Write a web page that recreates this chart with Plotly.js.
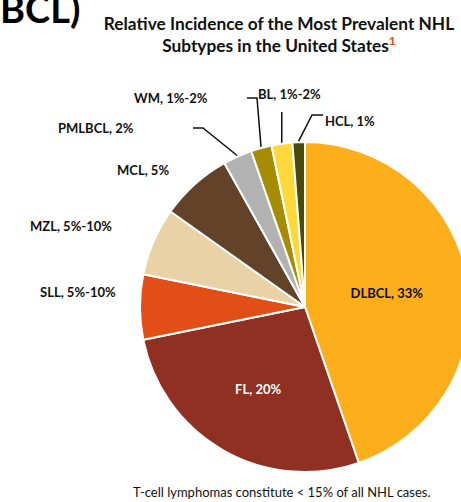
<!DOCTYPE html>
<html>
<head>
<meta charset="utf-8">
<script src="https://cdn.plot.ly/plotly-3.0.1.min.js"></script>
<style>
  html, body { margin: 0; padding: 0; overflow: hidden; background: #fff; }
  #chart { width: 475px; height: 502px; }
</style>
</head>
<body>
<div id="chart"></div>
<script>
// subtypes, clockwise from 12 o'clock
const subtypes = ["DLBCL", "FL", "SLL", "MZL", "MCL", "PMLBCL", "WM", "BL", "HCL"];
const shares = [33, 20, 4.7, 4.9, 5.2, 2.1, 1.5, 1.5, 0.9];
const shareLabels = ["33%", "20%", "5%-10%", "5%-10%", "5%", "2%", "1%-2%", "1%-2%", "1%"];
const sliceColors = ["#FCAF1B", "#8F3022", "#E14F16", "#E8D2A6", "#62432A",
                     "#B2B2B2", "#A68C00", "#FFD93C", "#4B4A0A"];

const W = 475, H = 502;
const px = (x) => x / W;
const py = (y) => 1 - y / H;

// pie placement (pixels)
const cx = 305, cy = 307, R = 165;

// outside label spots, pixels
const outside = {
  SLL:    { x: 78,  y: 292, anchor: "center" },
  MZL:    { x: 71,  y: 226, anchor: "center" },
  MCL:    { x: 143, y: 170, anchor: "center" },
  PMLBCL: { x: 96,  y: 128, anchor: "center", elbow: [193, 203] },
  WM:     { x: 171, y: 98,  anchor: "center", elbow: [247, 257] },
  BL:     { x: 289, y: 94,  anchor: "center", drop: 112 },
  HCL:    { x: 323, y: 121, anchor: "left", elbow: [323, 312], ly: 115 },
};

// mid-angle edge point of every slice, from the data
const total = shares.reduce((a, b) => a + b, 0);
let acc = 0;
const edges = shares.map((v) => {
  const mid = (acc + v / 2) / total * 2 * Math.PI;
  acc += v;
  return { x: cx + (R + 1) * Math.sin(mid), y: cy - (R + 1) * Math.cos(mid) };
});

const labelFont = { family: "Lato, 'Open Sans', sans-serif", size: 13, color: "#111", weight: "bold" };

const annotations = [];
const shapes = [];
subtypes.forEach((name, i) => {
  const o = outside[name];
  if (!o) return;
  annotations.push({
    xref: "paper", yref: "paper", x: px(o.x), y: py(o.y),
    xanchor: o.anchor, yanchor: "middle", showarrow: false,
    text: name + ", " + shareLabels[i], font: labelFont,
  });
  const e = edges[i];
  let path = null;
  if (o.elbow) {
    const ly = o.ly || o.y;
    path = `M ${px(o.elbow[0])} ${py(ly)} L ${px(o.elbow[1])} ${py(ly)} L ${px(e.x)} ${py(e.y)}`;
  } else if (o.drop) {
    path = `M ${px(e.x)} ${py(o.drop)} L ${px(e.x)} ${py(e.y)}`;
  }
  if (path) {
    shapes.push({ type: "path", xref: "paper", yref: "paper", path: path,
                  line: { color: "#111", width: 1.5 } });
  }
});

// slide heading fragment, footnote
annotations.push({
  xref: "paper", yref: "paper", x: px(-2), y: py(8), xanchor: "left", yanchor: "middle",
  showarrow: false, text: "BCL)",
  font: { family: "Lato, sans-serif", size: 38, color: "#000", weight: "bold" },
});
annotations.push({
  xref: "paper", yref: "paper", x: px(282), y: py(492), xanchor: "center", yanchor: "middle",
  showarrow: false, text: "T-cell lymphomas constitute &lt; 15% of all NHL cases.",
  font: { family: "Lato, sans-serif", size: 13, color: "#111" },
});

const data = [{
  type: "pie",
  labels: subtypes,
  values: shares,
  text: shareLabels,
  sort: false,
  direction: "clockwise",
  rotation: 0,
  marker: { colors: sliceColors, line: { color: "#fff", width: 2 } },
  texttemplate: "%{label}, %{text}",
  textposition: ["inside", "inside", "none", "none", "none", "none", "none", "none", "none"],
  insidetextorientation: "horizontal",
  insidetextfont: { family: "Lato, sans-serif", size: 13, weight: "bold",
                    color: ["#111", "#fff"] },
  hoverinfo: "none",
  domain: { x: [px(cx - R), px(cx + R)], y: [py(cy + R), py(cy - R)] },
}];

const layout = {
  width: W,
  height: H,
  margin: { l: 0, r: 0, t: 0, b: 0 },
  showlegend: false,
  paper_bgcolor: "#fff",
  title: {
    text: "Relative Incidence of the Most Prevalent NHL<br>Subtypes in the United States<sup><span style='color:#E8461B'>1</span></sup>",
    font: { family: "Lato, sans-serif", size: 17.3, color: "#111", weight: "bold" },
    x: px(279), xanchor: "center",
    y: py(30), yanchor: "middle",
  },
  annotations: annotations,
  shapes: shapes,
};

Plotly.newPlot("chart", data, layout, { displayModeBar: false, staticPlot: true });
</script>
</body>
</html>
